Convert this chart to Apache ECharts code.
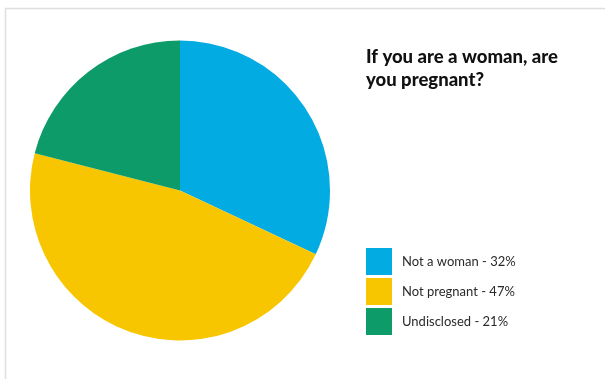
<!DOCTYPE html>
<html>
<head>
<meta charset="utf-8">
<script src="https://cdn.jsdelivr.net/npm/echarts@6/dist/echarts.min.js"></script>
<style>
  html, body { margin: 0; padding: 0; background: #ffffff; }
  #chart { width: 605px; height: 379px; }
</style>
</head>
<body>
<div id="chart"></div>
<script>
// Survey answers and their shares (percent)
const categories = ['Not a woman', 'Not pregnant', 'Undisclosed'];
const shares = [32, 47, 21];
const sliceColors = ['#02ace2', '#f8c600', '#0d9c69'];

const chart = echarts.init(document.getElementById('chart'), null, { renderer: 'canvas' });

const pieData = categories.map((name, i) => ({
  name: name,
  value: shares[i],
  itemStyle: { color: sliceColors[i] }
}));

chart.setOption({
  animation: false,
  backgroundColor: '#ffffff',
  title: {
    text: 'If you are a woman, are\nyou pregnant?',
    left: 366,
    top: 46,
    padding: 0,
    textStyle: {
      fontFamily: 'Lato',
      fontWeight: 900,
      fontSize: 18.5,
      lineHeight: 23,
      color: '#111111'
    }
  },
  legend: {
    orient: 'vertical',
    left: 366,
    top: 248,
    padding: 0,
    itemWidth: 26,
    itemHeight: 27,
    itemGap: 3,
    icon: 'rect',
    selectedMode: false,
    data: categories,
    formatter: function (name) {
      const i = categories.indexOf(name);
      return name + ' - ' + shares[i] + '%';
    },
    textStyle: {
      fontFamily: 'Lato',
      fontSize: 13,
      color: '#2a2a2a',
      padding: [0, 0, 0, 5]
    }
  },
  graphic: [{
    type: 'rect',
    shape: { x: 5.5, y: 8.5, width: 700, height: 500 },
    style: { fill: 'none', stroke: '#dedede', lineWidth: 1.5 },
    silent: true
  }],
  series: [{
    type: 'pie',
    center: [180, 190.5],
    radius: 150,
    startAngle: 90,
    clockwise: true,
    label: { show: false },
    labelLine: { show: false },
    emphasis: { disabled: true },
    itemStyle: { borderWidth: 0 },
    data: pieData
  }]
});
</script>
</body>
</html>
